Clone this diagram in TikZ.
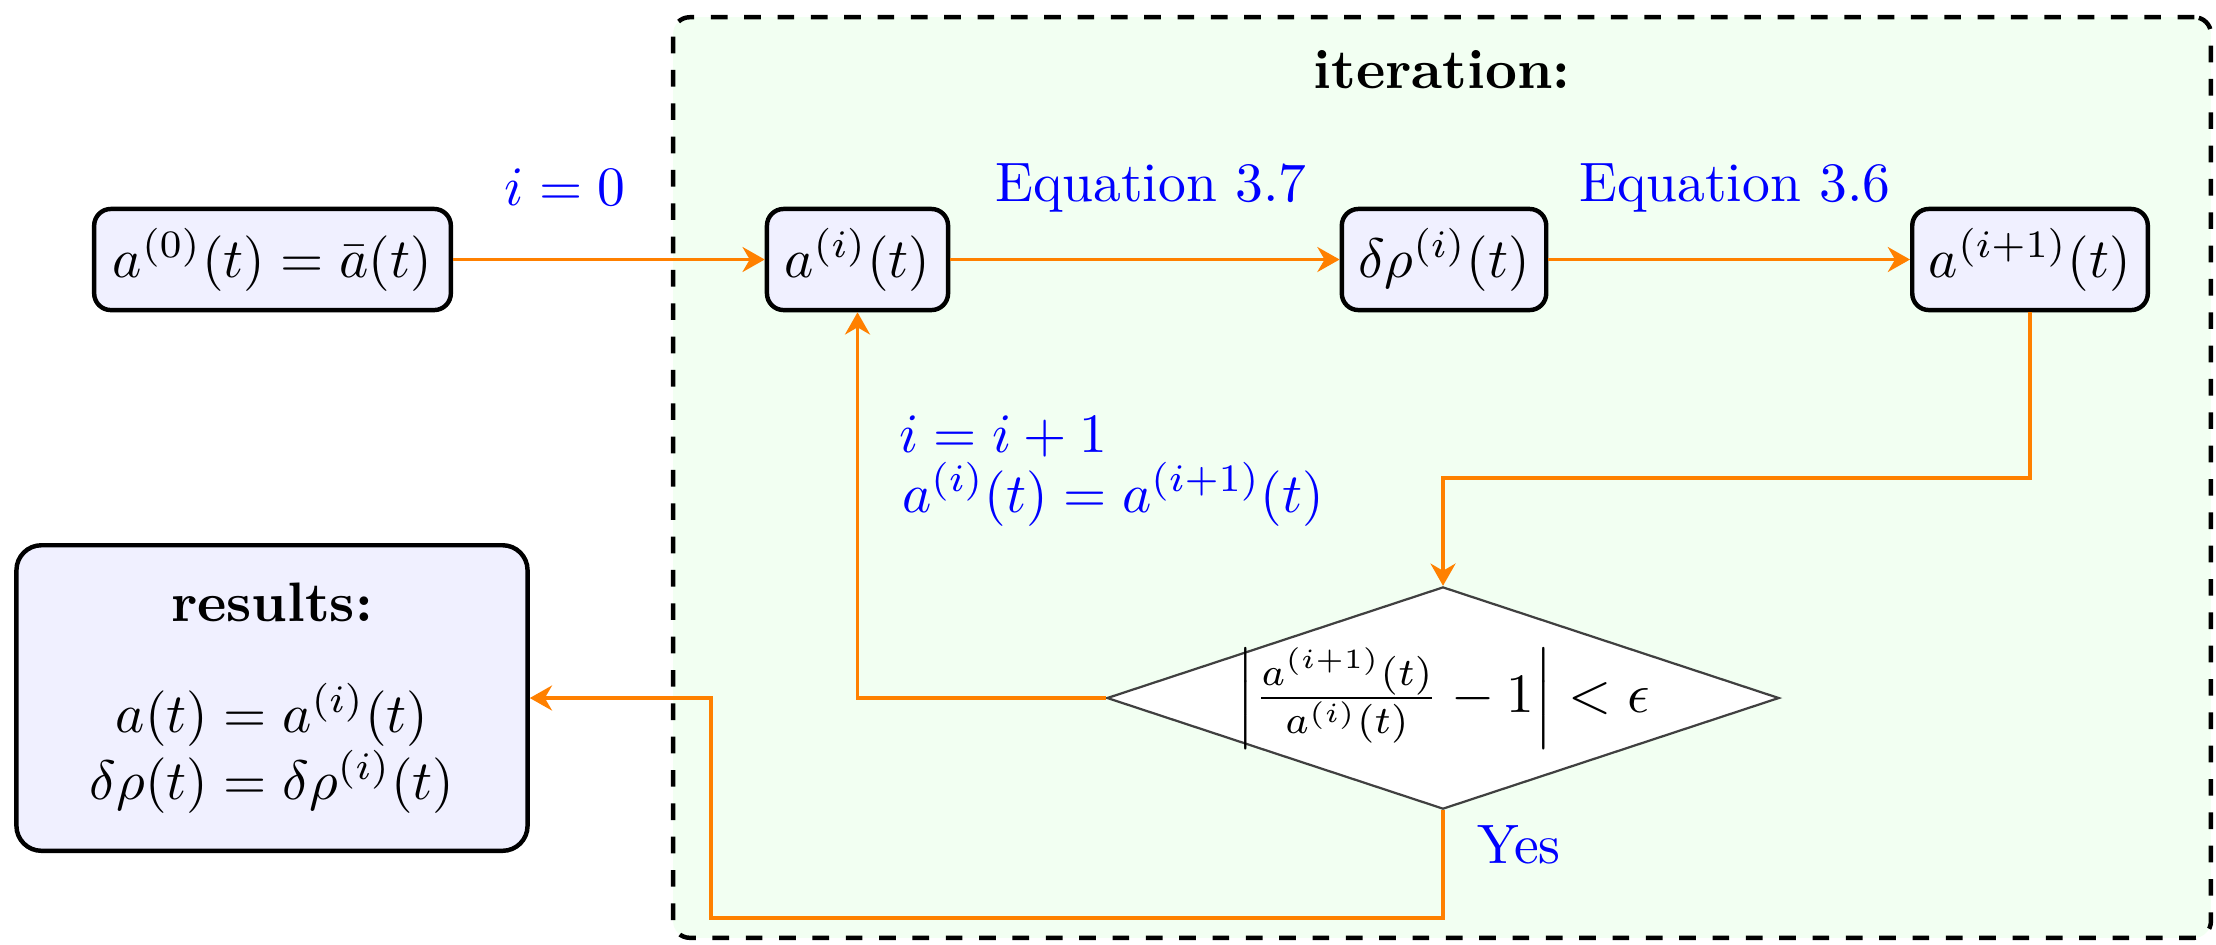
\documentclass[tikz,border=0pt]{standalone}
\usetikzlibrary{shapes.geometric,arrows.meta,calc}
\begin{document}
\begin{tikzpicture}[x=0.18pt,y=-0.18pt,
  stepbox/.style={draw=black, thick, fill=blue!6, rounded corners=3pt, minimum height=18.2pt, inner sep=2pt},
  resbox/.style={draw=black, thick, fill=blue!6, rounded corners=4.5pt, minimum width=92pt, minimum height=55pt, align=center},
  iterbox/.style={draw=black, thick, dashed, fill=green!5, rounded corners=3pt, minimum width=276.8pt, minimum height=165.7pt},
  testbox/.style={diamond, draw=black!75, thin, fill=white, minimum width=121pt, minimum height=40pt, inner xsep=-12pt, inner ysep=-6pt, shape aspect=3},
  arr/.style={draw=orange, semithick, -{Stealth[length=4pt,width=4.5pt,inset=1.3pt]}},
  lbl/.style={text=blue}]
\useasboundingbox (0,0) rectangle (2216,944);
% container
\node[iterbox] (iter) at (1442,477.5) {};
\node[font=\bfseries, anchor=base] (ititle) at (1442,88) {iteration:};
% nodes
\node[stepbox, minimum width=64.2pt] (a0) at (272.5,259.5) {$a^{(0)}(t)=\bar{a}(t)$};
\node[stepbox, minimum width=32.6pt] (ai) at (857.5,259.5) {$a^{(i)}(t)$};
\node[stepbox, minimum width=36.8pt] (dr) at (1444,259.5) {$\delta\rho^{(i)}(t)$};
\node[stepbox, minimum width=42.4pt] (ai1) at (2030,259.5) {$a^{(i+1)}(t)$};
\node[testbox] (dia) at (1443,698) {$\left|\frac{a^{(i+1)}(t)}{a^{(i)}(t)}-1\right|<\epsilon$};
\node[resbox] (res) at (272,698) {\textbf{results:}\\[8pt] $a(t)=a^{(i)}(t)$\\ $\delta\rho(t)=\delta\rho^{(i)}(t)$};
% labels
\node[lbl, anchor=base] (l0) at (565,205) {$i=0$};
\node[lbl, anchor=base] (eq37) at (1151,201) {Equation 3.7};
\node[lbl, anchor=base] (eq36) at (1735,201) {Equation 3.6};
\node[lbl, anchor=base west, inner sep=0pt] (inc1) at (898,452) {$i=i+1$};
\node[lbl, anchor=base west, inner sep=0pt] (inc2) at (901,512) {$a^{(i)}(t)=a^{(i+1)}(t)$};
\node[lbl, anchor=base west, inner sep=0pt] (yes) at (1476,863) {Yes};
% connectors
\coordinate (k1) at (1443,478);
\coordinate (k2) at (711,918);
\draw[arr] (a0.east) -- (ai.west);
\draw[arr] (ai.east) -- (dr.west);
\draw[arr] (dr.east) -- (ai1.west);
\draw[arr] (ai1.south) |- (k1) -- (dia.north);
\draw[arr] (dia.west) -| (ai.south);
\draw[arr] (dia.south) |- (k2) |- (res.east);
\end{tikzpicture}
\end{document}
